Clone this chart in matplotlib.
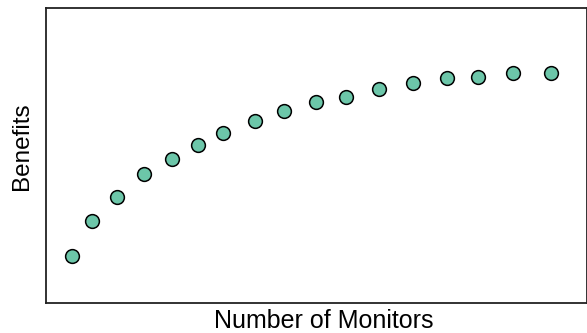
import matplotlib
matplotlib.use("Agg")
import matplotlib.pyplot as plt

# values (arbitrary units, no ticks shown)
monitors = [1.30, 2.32, 3.54, 4.92, 6.30, 7.57, 8.85, 10.44, 11.89, 13.50,
            14.99, 16.62, 18.34, 20.05, 21.60, 23.32, 25.22]
benefits = [2.37, 4.10, 5.29, 6.44, 7.19, 7.89, 8.49, 9.09, 9.60, 10.05,
            10.30, 10.72, 10.99, 11.24, 11.32, 11.50, 11.50]

x_label = "Number of Monitors"
y_label = "Benefits"

plt.rcParams["font.family"] = ["Liberation Sans", "DejaVu Sans"]

W, H = 587, 333
fig = plt.figure(figsize=(W / 100, H / 100), dpi=100)
left, right, top, bottom = 46, 586.5, 7.5, 303
ax = fig.add_axes([left / W, 1 - bottom / H, (right - left) / W, (bottom - top) / H])

ax.scatter(monitors, benefits, s=98, c="#6cc6a9", edgecolors="black",
           linewidths=1.1, zorder=3, clip_on=False)
ax.set_xlim(0, 27.0)
ax.set_ylim(0, 14.78)
ax.set_xticks([])
ax.set_yticks([])
for sp in ax.spines.values():
    sp.set_color("#222222")
    sp.set_linewidth(1.3)

fig.text(323.3 / W, 1 - 332.5 / H, x_label, ha="center", va="bottom", fontsize=18)
fig.text(22 / W, 1 - 146.5 / H, y_label, ha="center", va="center",
         rotation=90, fontsize=17.5)

fig.savefig("out.png", dpi=100)
